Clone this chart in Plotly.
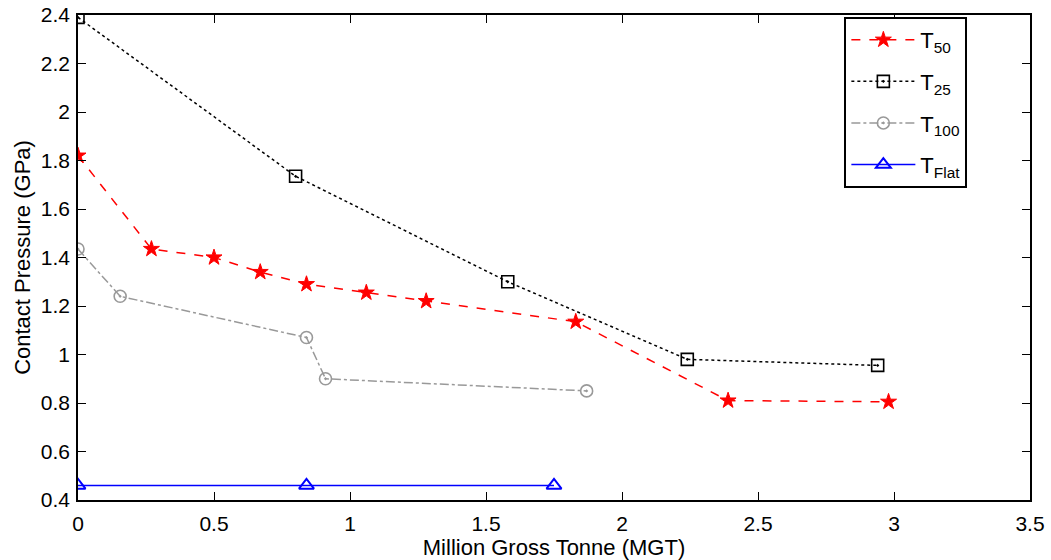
import plotly.graph_objects as go

# Data
t50_x = [0, 0.27, 0.50, 0.67, 0.84, 1.06, 1.28, 1.83, 2.39, 2.98]
t50_y = [1.82, 1.435, 1.40, 1.34, 1.29, 1.255, 1.22, 1.135, 0.81, 0.805]
t25_x = [0, 0.80, 1.58, 2.24, 2.94]
t25_y = [2.39, 1.735, 1.30, 0.98, 0.955]
t100_x = [0, 0.155, 0.84, 0.91, 1.87]
t100_y = [1.435, 1.24, 1.07, 0.90, 0.85]
flat_x = [0, 0.84, 1.75]
flat_y = [0.46, 0.46, 0.46]

x_ticks = [0, 0.5, 1, 1.5, 2, 2.5, 3, 3.5]
x_labels = ["0", "0.5", "1", "1.5", "2", "2.5", "3", "3.5"]
y_ticks = [0.4, 0.6, 0.8, 1.0, 1.2, 1.4, 1.6, 1.8, 2.0, 2.2, 2.4]
y_labels = ["0.4", "0.6", "0.8", "1", "1.2", "1.4", "1.6", "1.8", "2", "2.2", "2.4"]

FONT = "Liberation Sans, Arial, Helvetica"

fig = go.Figure()
fig.add_trace(go.Scatter(x=t50_x, y=t50_y, mode="lines+markers", name="T<sub>50</sub>", legendgroup="a",
                         line=dict(color="red", dash="dash", width=1.5),
                         marker=dict(symbol="star", size=12, color="red", line=dict(color="red", width=1))))
fig.add_trace(go.Scatter(x=t25_x, y=t25_y, mode="lines+markers", name="T<sub>25</sub>", legendgroup="b",
                         line=dict(color="black", dash="dot", width=1.5),
                         marker=dict(symbol="square-open-dot", size=12, color="black", line=dict(width=1.6))))
fig.add_trace(go.Scatter(x=t100_x, y=t100_y, mode="lines+markers", name="T<sub>100</sub>", legendgroup="c",
                         line=dict(color="#999999", dash="dashdot", width=1.5),
                         marker=dict(symbol="circle-open-dot", size=12, color="#999999", line=dict(width=1.6))))
fig.add_trace(go.Scatter(x=flat_x, y=flat_y, mode="lines+markers", name="T<sub>Flat</sub>", legendgroup="d",
                         line=dict(color="blue", width=1.5),
                         marker=dict(symbol="triangle-up-open", size=13, color="blue", line=dict(width=2))))

axis_common = dict(showgrid=False, zeroline=False, showline=True, linecolor="black", linewidth=1.5,
                   mirror="ticks", ticks="inside", ticklen=8, tickwidth=1.3, tickcolor="black",
                   automargin=False,
                   tickfont=dict(family=FONT, size=21, color="black"))

fig.update_xaxes(range=[0, 3.5], tickvals=x_ticks, ticktext=x_labels,
                 title=dict(text="Million Gross Tonne (MGT)", font=dict(family=FONT, size=22, color="black"), standoff=2),
                 ticklabelstandoff=4,
                 **axis_common)
fig.update_yaxes(range=[0.4, 2.4], tickvals=y_ticks, ticktext=y_labels,
                 title=dict(text="Contact Pressure (GPa)", font=dict(family=FONT, size=22, color="black"), standoff=4),
                 ticklabelstandoff=2,
                 **axis_common)

fig.update_layout(
    width=1051, height=560,
    margin=dict(l=78, r=21, t=15, b=60),
    plot_bgcolor="white", paper_bgcolor="white",
    font=dict(family=FONT, color="black"),
    legend=dict(x=0.805, y=0.996, xanchor="left", yanchor="top",
                bgcolor="white", bordercolor="black", borderwidth=2,
                font=dict(family=FONT, size=22, color="black"),
                itemwidth=64, tracegroupgap=10, traceorder="grouped"),
    showlegend=True,
)

fig.write_html("out.html", config={"displayModeBar": False},
               post_script="document.body.style.margin='0';document.body.style.overflow='hidden';")
